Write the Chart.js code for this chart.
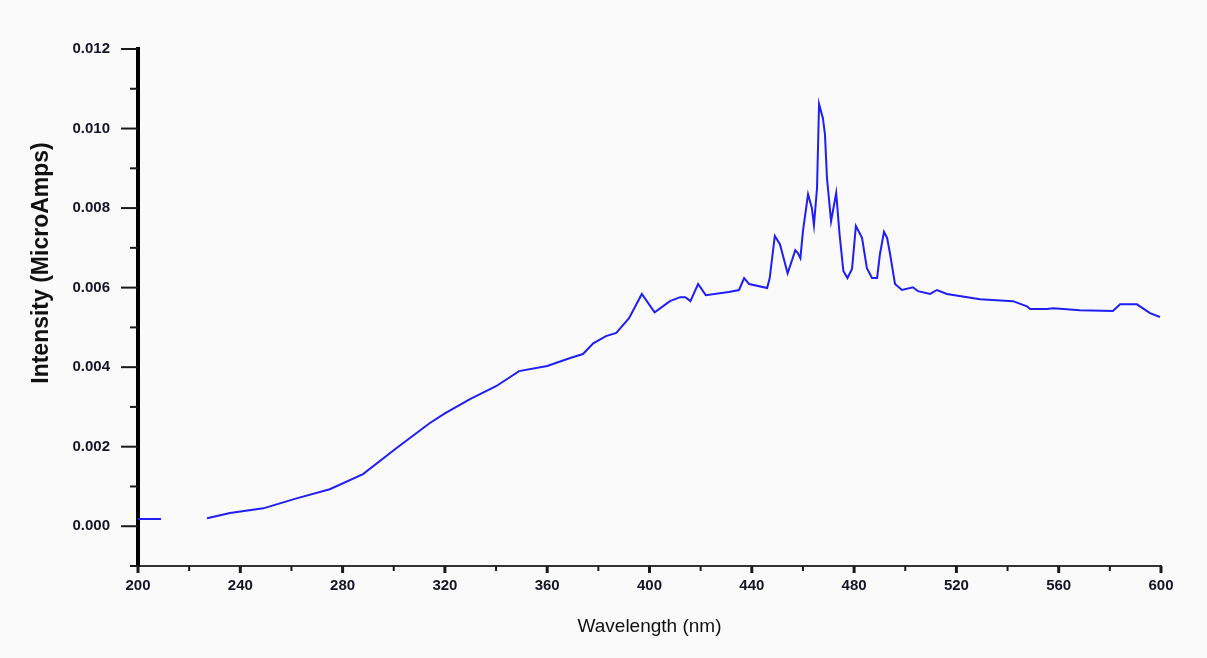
<!DOCTYPE html>
<html>
<head>
<meta charset="utf-8">
<title>Intensity vs Wavelength</title>
<script src="https://cdn.jsdelivr.net/npm/chart.js@4"></script>
<style>
  html, body { margin: 0; padding: 0; background: #fafafa; }
  #wrap { width: 1207px; height: 658px; }
</style>
</head>
<body>
<div id="wrap"><canvas id="spectrum" width="1207" height="658"></canvas></div>
<script>
// values (null = hidden part of the trace)
const wavelengthNm = [200, 209, 218, 227, 236, 249, 262, 275, 288, 301, 314, 320, 330, 340, 349, 360, 369, 374, 378, 383, 387, 392, 397, 402, 408, 412, 414, 416, 419, 422, 431, 435, 437, 439, 446, 447, 449, 451, 454, 456, 457, 458, 459, 460, 462, 463.5, 464.3, 465.5, 466.3, 467.8, 468.6, 469.4, 471, 473, 474.3, 475.8, 477.4, 479.2, 480.7, 483.1, 485, 487, 489, 490.1, 491.7, 492.9, 494, 496, 498.7, 503, 505, 509.7, 512.4, 516.3, 529.2, 542.1, 547.6, 548.8, 555.4, 557.8, 568.3, 581.2, 584, 590.6, 595.7, 599.6];
const intensityUA = [0.00018, 0.00018, null, 0.0002, 0.00033, 0.00045, 0.0007, 0.00093, 0.00131, 0.00196, 0.00259, 0.00284, 0.0032, 0.00352, 0.0039, 0.00403, 0.00423, 0.00433, 0.0046, 0.00478, 0.00486, 0.00523, 0.00584, 0.00538, 0.00566, 0.00576, 0.00576, 0.00566, 0.00609, 0.00581, 0.00589, 0.00594, 0.00624, 0.00609, 0.00599, 0.00624, 0.0073, 0.00709, 0.00636, 0.00674, 0.00694, 0.00687, 0.00674, 0.00742, 0.00835, 0.008, 0.00757, 0.0085, 0.01062, 0.01026, 0.00986, 0.00875, 0.00767, 0.00838, 0.00735, 0.00642, 0.00624, 0.00647, 0.00755, 0.00725, 0.00649, 0.00624, 0.00624, 0.00684, 0.0074, 0.00725, 0.00687, 0.00609, 0.00594, 0.00601, 0.00591, 0.00584, 0.00594, 0.00584, 0.00571, 0.00566, 0.00553, 0.00546, 0.00546, 0.00548, 0.00543, 0.00541, 0.00558, 0.00558, 0.00536, 0.00526];

const xTicks = [200, 240, 280, 320, 360, 400, 440, 480, 520, 560, 600];
const xMinorTicks = [220, 260, 300, 340, 380, 420, 460, 500, 540, 580];
const yTicks = [0, 0.002, 0.004, 0.006, 0.008, 0.010, 0.012];
const yMinorTicks = [-0.001, 0.001, 0.003, 0.005, 0.007, 0.009, 0.011];
const yTitle = 'Intensity (MicroAmps)';

const tickFont = { family: "'Liberation Sans', Arial, sans-serif", size: 15, weight: 'bold' };

// tick marks of two lengths, placed through the scales, plus the off-centre y title
const axisExtras = {
  id: 'axisExtras',
  afterDraw(chart) {
    const ctx = chart.ctx;
    const xs = chart.scales.x;
    const ys = chart.scales.y;
    const area = chart.chartArea;
    ctx.save();
    ctx.strokeStyle = '#1a1a1a';
    function mark(x1, y1, x2, y2, w) {
      ctx.lineWidth = w;
      ctx.beginPath();
      ctx.moveTo(x1, y1);
      ctx.lineTo(x2, y2);
      ctx.stroke();
    }
    yTicks.forEach(v => { const p = ys.getPixelForValue(v); mark(area.left - 17, p, area.left, p, 2); });
    yMinorTicks.forEach(v => { const p = ys.getPixelForValue(v); mark(area.left - 8, p, area.left, p, 2); });
    xTicks.forEach(v => { const p = xs.getPixelForValue(v); mark(p, area.bottom, p, area.bottom + 7, 3); });
    xMinorTicks.forEach(v => { const p = xs.getPixelForValue(v); mark(p, area.bottom, p, area.bottom + 5, 2); });

    ctx.translate(42, 263);
    ctx.rotate(-Math.PI / 2);
    ctx.font = "bold 23px 'Liberation Sans', Arial, sans-serif";
    ctx.fillStyle = '#111';
    ctx.textAlign = 'center';
    ctx.textBaseline = 'middle';
    ctx.fillText(yTitle, 0, 0);
    ctx.restore();
  }
};

const points = wavelengthNm.map((w, i) => ({ x: w, y: intensityUA[i] }));

new Chart(document.getElementById('spectrum'), {
  type: 'line',
  data: {
    datasets: [{
      data: points,
      borderColor: '#1e1ef5',
      borderWidth: 2,
      pointRadius: 0,
      tension: 0,
      spanGaps: false
    }]
  },
  options: {
    responsive: false,
    animation: false,
    layout: { padding: { left: 0, top: 49, right: 46, bottom: 0 } },
    plugins: { legend: { display: false }, tooltip: { enabled: false } },
    scales: {
      x: {
        type: 'linear',
        min: 200,
        max: 600,
        afterFit(scale) { scale.height = 92; },
        afterBuildTicks(scale) { scale.ticks = xTicks.map(v => ({ value: v })); },
        grid: { drawOnChartArea: false, drawTicks: true, tickLength: 7, color: 'rgba(0,0,0,0)' },
        border: { color: '#333', width: 2 },
        ticks: { padding: 4, font: tickFont, color: '#141428', maxRotation: 0, autoSkip: false },
        title: {
          display: true,
          text: 'Wavelength (nm)',
          color: '#111',
          font: { family: "'Liberation Sans', Arial, sans-serif", size: 19 },
          padding: { top: 0, bottom: 20 }
        }
      },
      y: {
        min: -0.001,
        max: 0.012,
        afterFit(scale) { scale.width = 138; },
        afterBuildTicks(scale) { scale.ticks = yTicks.map(v => ({ value: v })); },
        grid: { drawOnChartArea: false, drawTicks: true, tickLength: 17, color: 'rgba(0,0,0,0)' },
        border: { color: '#000', width: 4 },
        ticks: {
          padding: 11,
          font: tickFont,
          color: '#141428',
          callback: v => v.toFixed(3)
        },
        title: { display: false }
      }
    }
  },
  plugins: [axisExtras]
});
</script>
</body>
</html>
